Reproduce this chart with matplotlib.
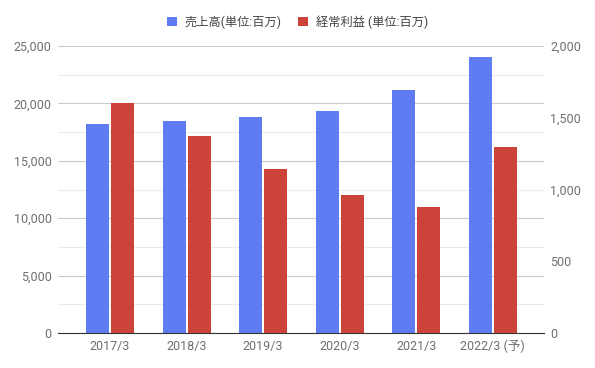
import numpy as np
import matplotlib.pyplot as plt
from matplotlib.ticker import FuncFormatter, MultipleLocator

plt.rcParams['font.family'] = ['Roboto', 'Noto Sans CJK JP', 'DejaVu Sans']

categories = ['2017/3', '2018/3', '2019/3', '2020/3', '2021/3', '2022/3 (予)']
sales = [18200, 18450, 18800, 19300, 21150, 24000]
profit = [1600, 1370, 1140, 965, 880, 1295]
sales_label = '売上高(単位:百万)'
profit_label = '経常利益 (単位:百万)'

blue = '#5f7cf2'
red = '#cc4339'
gray = '#6f6f6f'

fig = plt.figure(figsize=(5.95, 3.68), dpi=100)
ax = fig.add_axes([0.0975, 0.0951, 0.8168, 0.7799])
ax2 = ax.twinx()

x = np.arange(len(categories))
w = 0.30
off = 0.163
ax.bar(x - off, sales, width=w, color=blue, label=sales_label, zorder=3)
ax2.bar(x + off, profit, width=w, color=red, label=profit_label, zorder=3)

ax.set_xlim(-0.68, len(categories) - 0.33)
ax.set_ylim(0, 25000)
ax2.set_ylim(0, 2000)

fmt = FuncFormatter(lambda v, p: f'{int(v):,}')
ax.yaxis.set_major_locator(MultipleLocator(5000))
ax.yaxis.set_minor_locator(MultipleLocator(2500))
ax.yaxis.set_major_formatter(fmt)
ax2.yaxis.set_major_locator(MultipleLocator(500))
ax2.yaxis.set_major_formatter(fmt)

ax.grid(axis='y', which='major', color='#cccccc', linewidth=0.8, zorder=0)
ax.grid(axis='y', which='minor', color='#ebebeb', linewidth=0.8, zorder=0)
ax.set_axisbelow(True)

ax.set_xticks(x)
ax.set_xticklabels(categories)
for a in (ax, ax2):
    for s in a.spines.values():
        s.set_visible(False)
    a.tick_params(length=0, colors=gray, labelsize=9)
    a.tick_params(axis='y', which='minor', length=0)
ax.spines['bottom'].set_visible(True)
ax.spines['bottom'].set_color('#333333')
ax.spines['bottom'].set_zorder(5)
ax.tick_params(axis='y', pad=4.5)
ax2.tick_params(axis='y', pad=4.5)
ax.tick_params(axis='x', pad=5)

h1, l1 = ax.get_legend_handles_labels()
h2, l2 = ax2.get_legend_handles_labels()
fig.legend(h1 + h2, l1 + l2, loc='center', bbox_to_anchor=(0.5, 0.94), ncol=2,
           frameon=False, fontsize=8.8, labelcolor='#444444', handlelength=0.8,
           handleheight=0.8, columnspacing=1.4, handletextpad=0.6)

plt.savefig('out.png')
